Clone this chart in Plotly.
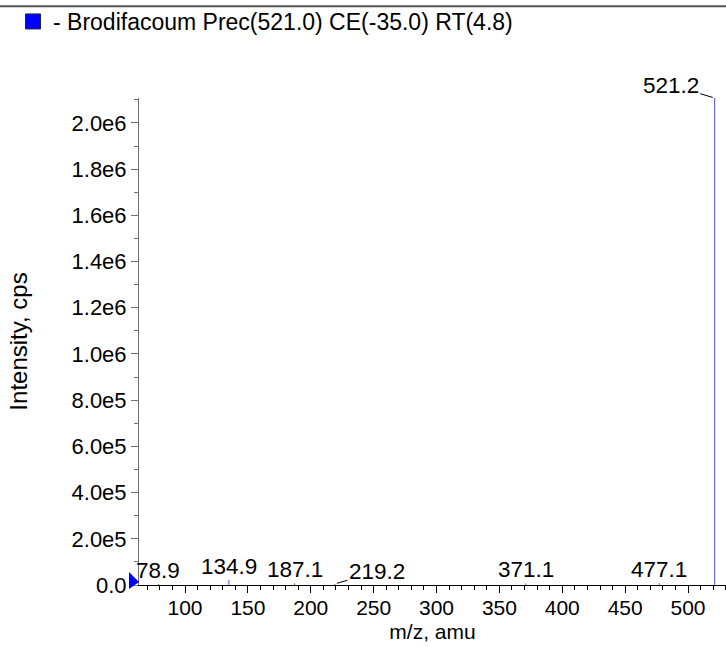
import plotly.graph_objects as go

# ---- data ----
peak_mz = [78.9, 134.9, 187.1, 219.2, 371.1, 477.1, 521.2]
peak_int = [4.0e3, 2.2e4, 7.0e3, 5.0e3, 7.0e3, 8.0e3, 2.108e6]
label_mz = [78.9, 134.9, 187.1, 371.1, 477.1]
label_text = ["78.9", "134.9", "187.1", "371.1", "477.1"]
arrow_label_mz = [219.2, 521.2]
arrow_label_text = ["219.2", "521.2"]
x_ticks = [100, 150, 200, 250, 300, 350, 400, 450, 500]
y_ticks = [0, 2e5, 4e5, 6e5, 8e5, 1.0e6, 1.2e6, 1.4e6, 1.6e6, 1.8e6, 2.0e6]
y_ticktext = ["0.0", "2.0e5", "4.0e5", "6.0e5", "8.0e5", "1.0e6", "1.2e6",
              "1.4e6", "1.6e6", "1.8e6", "2.0e6"]
legend_name = "- Brodifacoum Prec(521.0) CE(-35.0) RT(4.8)"
x_range = [63.4, 530.2]
y_range = [0, 2.108e6]

FONT = "Liberation Sans, Arial, Helvetica, sans-serif"
FS = 21
FS_ANN = 22.5

# stick spectrum
xs, ys = [], []
for m, v in zip(peak_mz, peak_int):
    xs += [m, m, None]
    ys += [0, v, None]

fig = go.Figure()
fig.add_trace(go.Scatter(x=xs, y=ys, mode="lines",
                         line=dict(color="#5050d8", width=1),
                         showlegend=False, hoverinfo="skip"))
fig.add_trace(go.Scatter(x=[None], y=[None], mode="markers", name=legend_name,
                         marker=dict(symbol="square", color="#0000ff", size=15,
                                     line=dict(color="#202050", width=1))))

intens = dict(zip(peak_mz, peak_int))
ann = []
for m, t in zip(label_mz, label_text):
    ann.append(dict(x=m, y=intens[m], text=t, showarrow=False,
                    xanchor="center", yanchor="bottom", yshift=-1,
                    font=dict(family=FONT, size=FS_ANN, color="#000")))
offsets = {219.2: (42, -12), 521.2: (-44, -13)}
for m, t in zip(arrow_label_mz, arrow_label_text):
    ax, ay = offsets[m]
    ann.append(dict(x=m, y=intens[m], text=t, showarrow=True, arrowhead=0,
                    arrowwidth=1, arrowcolor="#000", ax=ax, ay=ay, standoff=2,
                    font=dict(family=FONT, size=FS_ANN, color="#000")))

fig.update_layout(
    width=726, height=647,
    margin=dict(l=139, r=0, t=97, b=62),
    paper_bgcolor="white", plot_bgcolor="white",
    font=dict(family=FONT, size=FS, color="#000"),
    showlegend=True,
    legend=dict(x=(13 - 139) / 587, y=1 + 98 / 488, xanchor="left", yanchor="top",
                font=dict(family=FONT, size=23, color="#000"),
                bgcolor="rgba(0,0,0,0)", borderwidth=0, itemsizing="trace"),
    annotations=ann,
    xaxis=dict(range=x_range, tickvals=x_ticks, showgrid=False, zeroline=False,
               showline=True, linecolor="#000", linewidth=1,
               ticks="outside", ticklen=7, tickcolor="#000",
               minor=dict(dtick=10, ticks="outside", ticklen=4, tickcolor="#000"),
               tickfont=dict(family=FONT, size=FS), ticklabelstandoff=-3,
               title=dict(text="m/z, amu", font=dict(family=FONT, size=FS), standoff=6)),
    yaxis=dict(range=y_range, tickvals=y_ticks, ticktext=y_ticktext, showgrid=False,
               zeroline=False, showline=True, linecolor="#707070", linewidth=1,
               ticks="outside", ticklen=7, tickcolor="#707070",
               minor=dict(dtick=1e5, ticks="outside", ticklen=4, tickcolor="#707070"),
               tickfont=dict(family=FONT, size=22),
               title=dict(text="Intensity, cps", font=dict(family=FONT, size=24), standoff=37)),
    shapes=[
        dict(type="line", xref="paper", yref="paper", x0=-139/587, x1=1,
             y0=(585 - 5) / 488, y1=(585 - 5) / 488,
             line=dict(color="#555", width=2)),
        dict(type="path", xref="paper", yref="paper", xsizemode="pixel",
             ysizemode="pixel", xanchor=0, yanchor=0,
             path="M -10,13 L 0,3 L -10,-4 Z", fillcolor="#0000ff",
             line=dict(color="#0000ff", width=0)),
    ],
)

fig.write_html("out.html", config={"displayModeBar": False},
               post_script="document.body.style.margin='0';")
